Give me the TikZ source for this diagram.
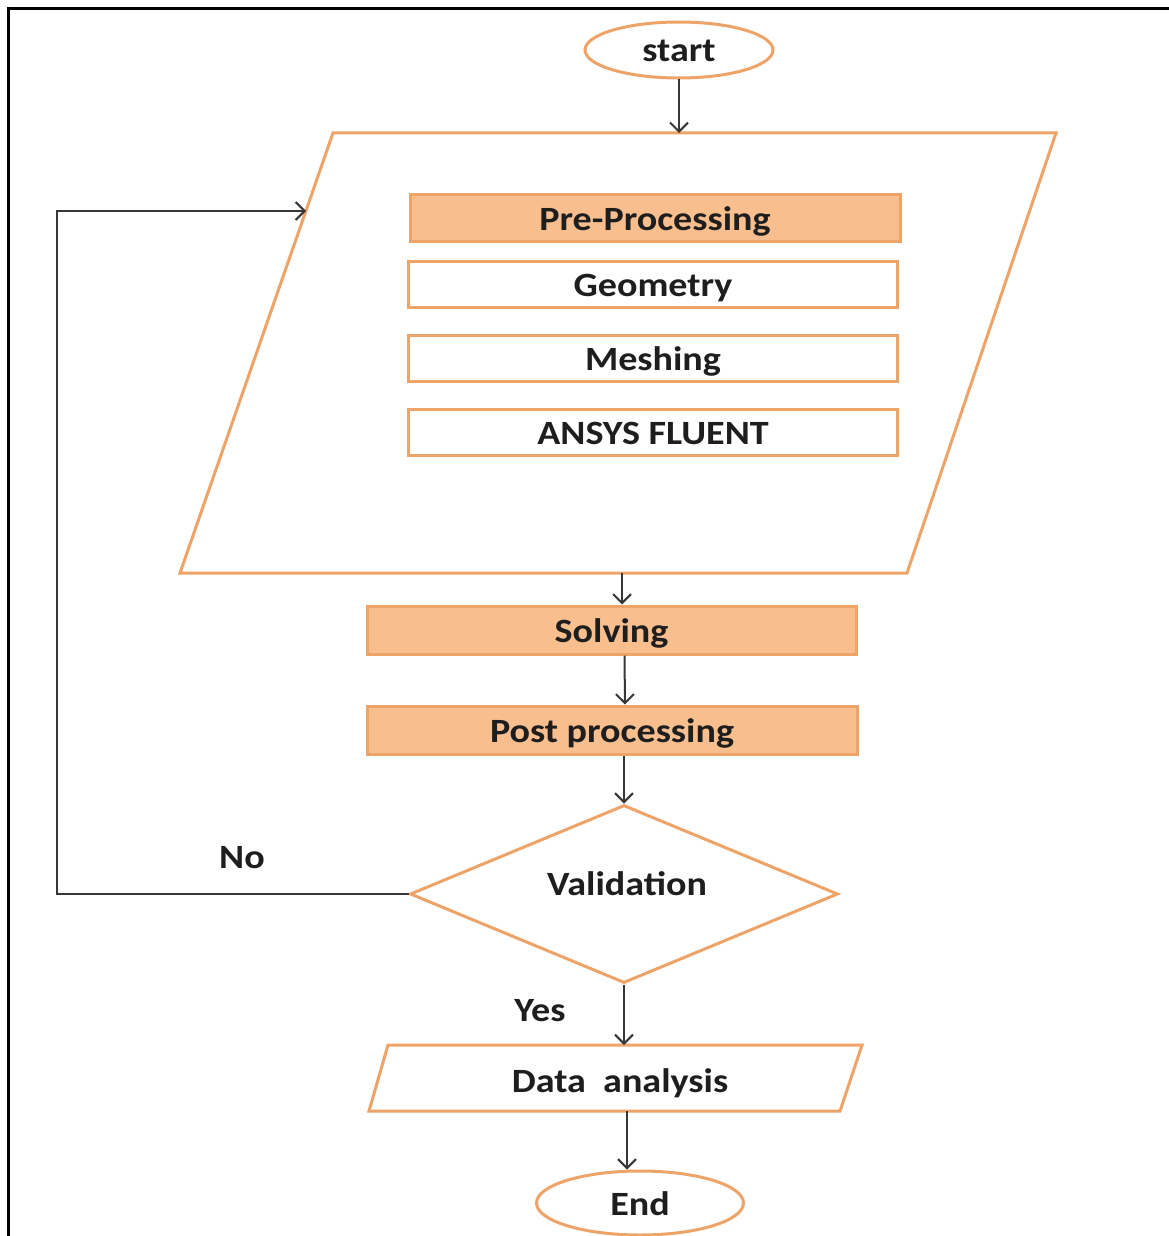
\documentclass[tikz,border=0pt]{standalone}
\usepackage{fontspec}
\setmainfont{Carlito}[FakeStretch=1.12]
\usetikzlibrary{shapes.geometric,arrows.meta,calc}
\definecolor{ostroke}{RGB}{238,164,104}
\definecolor{ofill}{RGB}{248,190,142}
\definecolor{txt}{RGB}{30,30,30}
\definecolor{conn}{RGB}{55,55,55}
\begin{document}
\begin{tikzpicture}[x=1pt,y=-1pt,
  every node/.style={font=\fontsize{34}{40}\selectfont\bfseries, text=txt, inner sep=0pt, text height=24pt, text depth=0pt},
  obox/.style={draw=ostroke, line width=3pt, rectangle, minimum height=47pt},
  ofilled/.style={obox, fill=ofill},
  oval/.style={draw=ostroke, line width=3pt, ellipse},
  odiam/.style={draw=ostroke, line width=3pt, diamond, minimum width=428pt, minimum height=178pt},
  oline/.style={draw=ostroke, line width=3pt, line join=miter},
  arr/.style={draw=conn, line width=2pt, -{Straight Barb[length=9pt,width=18pt,line width=2pt]}},
  lbl/.style={font=\fontsize{34}{40}\selectfont\bfseries}]
\useasboundingbox (0,0) rectangle (1169,1236);
\fill[white] (0,0) rectangle (1169,1236);
% frame
\draw[black, line width=3pt] (8,1236) -- (8,9) -- (1169,9);

% start
\node[oval, minimum width=188pt, minimum height=56pt] (start) at (679,50) {start};

% big parallelogram
\coordinate (bigTL) at (333,133);
\coordinate (bigTR) at (1056,133);
\coordinate (bigBR) at (907,573);
\coordinate (bigBL) at (180,573);
\draw[oline] (bigTL) -- (bigTR) -- (bigBR) -- (bigBL) -- cycle;
\coordinate (bigtop) at (679,133);
\coordinate (bigbot) at (622,573);
\coordinate (bigleft) at (306,211);

\node[ofilled, minimum width=490pt] (pre) at (655,218) {Pre-Processing};
\node[obox, minimum width=489pt, minimum height=46pt] (geo) at (653,284) {Geometry};
\node[obox, minimum width=489pt, minimum height=46pt] (mesh) at (653,358) {Meshing};
\node[obox, minimum width=489pt, minimum height=46pt] (ansys) at (653,432) {ANSYS FLUENT};

\node[ofilled, minimum width=489pt, minimum height=48pt] (solve) at (611.5,630) {Solving};
\node[ofilled, minimum width=490pt, minimum height=48pt] (post) at (612,730) {Post processing};

\node[odiam] (valid) at (624,894) {};
\node (vtext) at (627,883) {Validation};

% data analysis parallelogram
\coordinate (dTL) at (388,1045);
\coordinate (dTR) at (862,1045);
\coordinate (dBR) at (840,1111);
\coordinate (dBL) at (369,1111);
\draw[oline] (dTL) -- (dTR) -- (dBR) -- (dBL) -- cycle;
\node (data) at (620,1080) {Data\ \ analysis};
\coordinate (dtop) at (624,1045);
\coordinate (dbot) at (627,1111);

\node[oval, minimum width=207pt, minimum height=64pt] (end) at (640,1203) {End};

% labels
\node[lbl] (no) at (242,856) {No};
\node[lbl] (yes) at (540,1009) {Yes};

% connectors
\draw[arr] (start.south) -- (bigtop);
\draw[arr] (bigbot) -- (bigbot |- solve.north);
\draw[arr] ([xshift=13pt]solve.south) -- ([xshift=13pt]post.north);
\draw[arr] (valid.north |- post.south) -- (valid.north);
\draw[arr] (valid.south) -- (dtop);
\draw[arr] (dbot) -- (dbot |- end.north);
\draw[arr] (valid.west) -- (57,894) |- (bigleft);
\end{tikzpicture}
\end{document}
